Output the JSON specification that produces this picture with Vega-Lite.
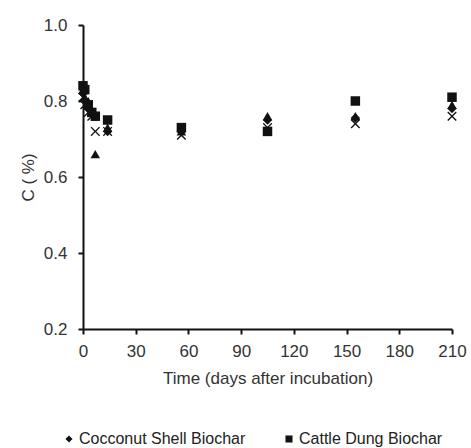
{
  "$schema": "https://vega.github.io/schema/vega-lite/v6.json",
  "autosize": "none",
  "width": 369,
  "height": 304,
  "padding": {"left": 83, "top": 25, "right": 19, "bottom": 119},
  "background": "white",
  "config": {
    "view": {"stroke": null},
    "font": "Liberation Sans",
    "axis": {"grid": false, "labelFlush": false, "domainColor": "#111", "domainWidth": 2, "tickColor": "#111", "tickWidth": 2, "tickSize": 5, "labelColor": "#333", "labelFontSize": 17, "titleColor": "#333", "titleFontSize": 17, "titleFontWeight": "normal", "labelFont": "Liberation Sans", "titleFont": "Liberation Sans"}
  },
  "data": {"values": [
    {"t": 0, "c": 0.82, "s": "Cocconut Shell Biochar"},
    {"t": 1, "c": 0.80, "s": "Cocconut Shell Biochar"},
    {"t": 3, "c": 0.78, "s": "Cocconut Shell Biochar"},
    {"t": 5, "c": 0.77, "s": "Cocconut Shell Biochar"},
    {"t": 7, "c": 0.76, "s": "Cocconut Shell Biochar"},
    {"t": 14, "c": 0.72, "s": "Cocconut Shell Biochar"},
    {"t": 56, "c": 0.72, "s": "Cocconut Shell Biochar"},
    {"t": 105, "c": 0.75, "s": "Cocconut Shell Biochar"},
    {"t": 155, "c": 0.755, "s": "Cocconut Shell Biochar"},
    {"t": 210, "c": 0.78, "s": "Cocconut Shell Biochar"},
    {"t": 0, "c": 0.84, "s": "Cattle Dung Biochar"},
    {"t": 1, "c": 0.83, "s": "Cattle Dung Biochar"},
    {"t": 3, "c": 0.79, "s": "Cattle Dung Biochar"},
    {"t": 5, "c": 0.77, "s": "Cattle Dung Biochar"},
    {"t": 7, "c": 0.76, "s": "Cattle Dung Biochar"},
    {"t": 14, "c": 0.75, "s": "Cattle Dung Biochar"},
    {"t": 56, "c": 0.73, "s": "Cattle Dung Biochar"},
    {"t": 105, "c": 0.72, "s": "Cattle Dung Biochar"},
    {"t": 155, "c": 0.80, "s": "Cattle Dung Biochar"},
    {"t": 210, "c": 0.81, "s": "Cattle Dung Biochar"},
    {"t": 0, "c": 0.83, "s": "Rice Husk Biochar"},
    {"t": 1, "c": 0.81, "s": "Rice Husk Biochar"},
    {"t": 3, "c": 0.80, "s": "Rice Husk Biochar"},
    {"t": 5, "c": 0.77, "s": "Rice Husk Biochar"},
    {"t": 7, "c": 0.66, "s": "Rice Husk Biochar"},
    {"t": 14, "c": 0.73, "s": "Rice Husk Biochar"},
    {"t": 56, "c": 0.72, "s": "Rice Husk Biochar"},
    {"t": 105, "c": 0.76, "s": "Rice Husk Biochar"},
    {"t": 155, "c": 0.76, "s": "Rice Husk Biochar"},
    {"t": 210, "c": 0.79, "s": "Rice Husk Biochar"},
    {"t": 0, "c": 0.81, "s": "Control"},
    {"t": 1, "c": 0.79, "s": "Control"},
    {"t": 3, "c": 0.77, "s": "Control"},
    {"t": 5, "c": 0.76, "s": "Control"},
    {"t": 7, "c": 0.72, "s": "Control"},
    {"t": 14, "c": 0.72, "s": "Control"},
    {"t": 56, "c": 0.71, "s": "Control"},
    {"t": 105, "c": 0.73, "s": "Control"},
    {"t": 155, "c": 0.74, "s": "Control"},
    {"t": 210, "c": 0.76, "s": "Control"}
  ]},
  "mark": {"type": "point", "filled": true, "opacity": 1, "size": 90},
  "encoding": {
    "x": {"field": "t", "type": "quantitative", "scale": {"domain": [0, 210], "nice": false, "zero": false},
      "axis": {"values": [0, 30, 60, 90, 120, 150, 180, 210], "title": "Time  (days after incubation)", "labelPadding": 9, "titlePadding": 11}},
    "y": {"field": "c", "type": "quantitative", "scale": {"domain": [0.2, 1.0], "nice": false, "zero": false},
      "axis": {"values": [0.2, 0.4, 0.6, 0.8, 1.0], "format": ".1f", "title": "C ( %)", "labelPadding": 11, "titlePadding": 6}},
    "shape": {"field": "s", "type": "nominal",
      "scale": {"domain": ["Cocconut Shell Biochar", "Cattle Dung Biochar", "Rice Husk Biochar", "Control"],
        "range": ["diamond", "square", "triangle-up", "M-1,-0.8L-0.8,-1L0,-0.2L0.8,-1L1,-0.8L0.2,0L1,0.8L0.8,1L0,0.2L-0.8,1L-1,0.8L-0.2,0Z"]},
      "legend": {"orient": "none", "legendX": -22, "legendY": 406, "direction": "horizontal", "values": ["Cocconut Shell Biochar", "Cattle Dung Biochar"], "title": null, "labelFontSize": 16, "labelLimit": 300, "labelColor": "#222", "labelFont": "Liberation Sans", "symbolSize": 50, "symbolFillColor": "#111", "symbolStrokeColor": "#111", "columnPadding": 35, "labelOffset": 2}},
    "color": {"value": "#111"}
  }
}
